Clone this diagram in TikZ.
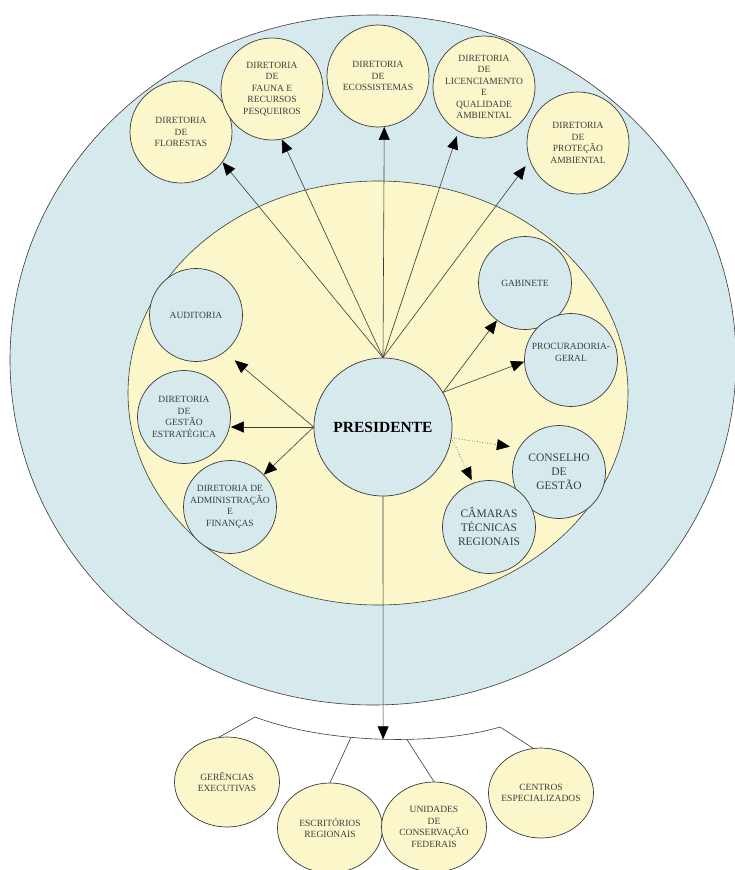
\documentclass[tikz,border=0pt]{standalone}
\usepackage{fontspec}
\setmainfont{Liberation Serif}
\usepackage{tikz}
\usetikzlibrary{arrows.meta,shapes.geometric}
\definecolor{orgblue}{HTML}{D6EAEE}
\definecolor{orgyellow}{HTML}{FCF6CB}
\definecolor{orgline}{HTML}{3A3A3A}
\definecolor{orgtext}{HTML}{3C3C3C}

\begin{document}
\begin{tikzpicture}[x=1pt, y=-1pt,
	unit/.style={circle, draw=orgline, line width=0.7pt, inner sep=-6pt, align=center, text=orgtext, font=\fontsize{9.5}{11.5}\selectfont},
	dir/.style={unit, fill=orgyellow, minimum size=102pt},
	aux/.style={unit, fill=orgblue, minimum size=93pt},
	bigaux/.style={aux, font=\fontsize{11.5}{14}\selectfont},
	base/.style={ellipse, draw=orgline, line width=0.7pt, fill=orgyellow, inner sep=-10pt, align=center, text=orgtext, minimum width=105pt, minimum height=90pt, font=\fontsize{9.5}{11.5}\selectfont},
	line/.style={draw=orgline, line width=0.6pt},
	link/.style={line, -{Triangle[length=13pt,width=11pt,black]}},
	dotlink/.style={link, dotted}]
	\useasboundingbox (0,0) rectangle (735,870);
	
	\draw[line, fill=orgblue] (373,360) ellipse [x radius=363, y radius=345];
	\draw[line, fill=orgyellow] (378,393) ellipse [x radius=250, y radius=212];
	
	\node[dir] (flor) at (181,132) {DIRETORIA\\DE\\FLORESTAS};
	\node[dir] (fauna) at (272,89) {DIRETORIA\\DE\\FAUNA E\\RECURSOS\\PESQUEIROS};
	\node[dir] (ecos) at (378,76) {DIRETORIA\\DE\\ECOSSISTEMAS};
	\node[dir] (lic) at (484,87) {DIRETORIA\\DE\\LICENCIAMENTO\\E\\QUALIDADE\\AMBIENTAL};
	\node[dir] (prot) at (578,143) {DIRETORIA\\DE\\PROTEÇÃO\\AMBIENTAL};
	
	\node[aux, minimum size=138pt, text=black, font=\fontsize{15.5}{18}\selectfont\bfseries] (pres) at (383,427) {PRESIDENTE};
	
	\node[aux] (aud) at (196,315) {AUDITORIA};
	\node[aux] (gest) at (184,417) {DIRETORIA\\DE\\GESTÃO\\ESTRATÉGICA};
	\node[aux] (adm) at (230,507) {DIRETORIA DE\\ADMINISTRAÇÃO\\E\\FINANÇAS};
	\node[aux] (gab) at (525,283) {GABINETE};
	\node[aux] (proc) at (571,360) {PROCURADORIA-\\GERAL\\[4pt]};
	\node[bigaux] (cons) at (559,472) {CONSELHO\\DE\\GESTÃO};
	\node[bigaux] (cam) at (489,527) {CÂMARAS\\TÉCNICAS\\REGIONAIS};
	
	\node[base] (ger) at (227,782) {GERÊNCIAS\\EXECUTIVAS};
	\node[base] (esc) at (330,828) {ESCRITÓRIOS\\REGIONAIS};
	\node[base] (uni) at (434,827) {UNIDADES\\DE\\CONSERVAÇÃO\\FEDERAIS};
	\node[base] (cen) at (541,793) {CENTROS\\ESPECIALIZADOS};
	
	\draw[link] (pres.north) -- (flor.-36);
	\draw[link] (pres.north) -- (fauna.-79);
	\draw[link] (pres.north) -- (ecos.-83);
	\draw[link, shorten >=5pt] (pres.north) -- (lic.-120);
	\draw[link, shorten >=7pt] (pres.north) -- (prot.200);
	
	\draw[link, shorten >=13pt] (pres.west) -- (aud.-52);
	\draw[link] (pres.west) -- (gest.east |- pres.west);
	\draw[link] (pres.west) -- (adm);
	
	\draw[link] (pres.30) -- (gab);
	\draw[link] (pres.30) -- (proc.182);
	\draw[dotlink, shorten >=9pt] (pres.-9) -- (cons.149);
	\draw[dotlink, shorten >=3pt] (pres.-9) -- (cam.110);
	
	\coordinate (lb) at (255,717);
	\coordinate (rb) at (500,727);
	\draw[line] (lb) .. controls (330,745) and (440,745) .. (rb) coordinate[pos=0.38] (b1) coordinate[pos=0.5] (bm) coordinate[pos=0.59] (b2);
	\draw[line] (lb) -- (ger.100);
	\draw[line] (b1) -- (esc.north);
	\draw[line] (b2) -- (uni.north);
	\draw[line] (rb) -- (cen.100);
	\draw[link] (pres.south) -- (bm);
\end{tikzpicture}
\end{document}
